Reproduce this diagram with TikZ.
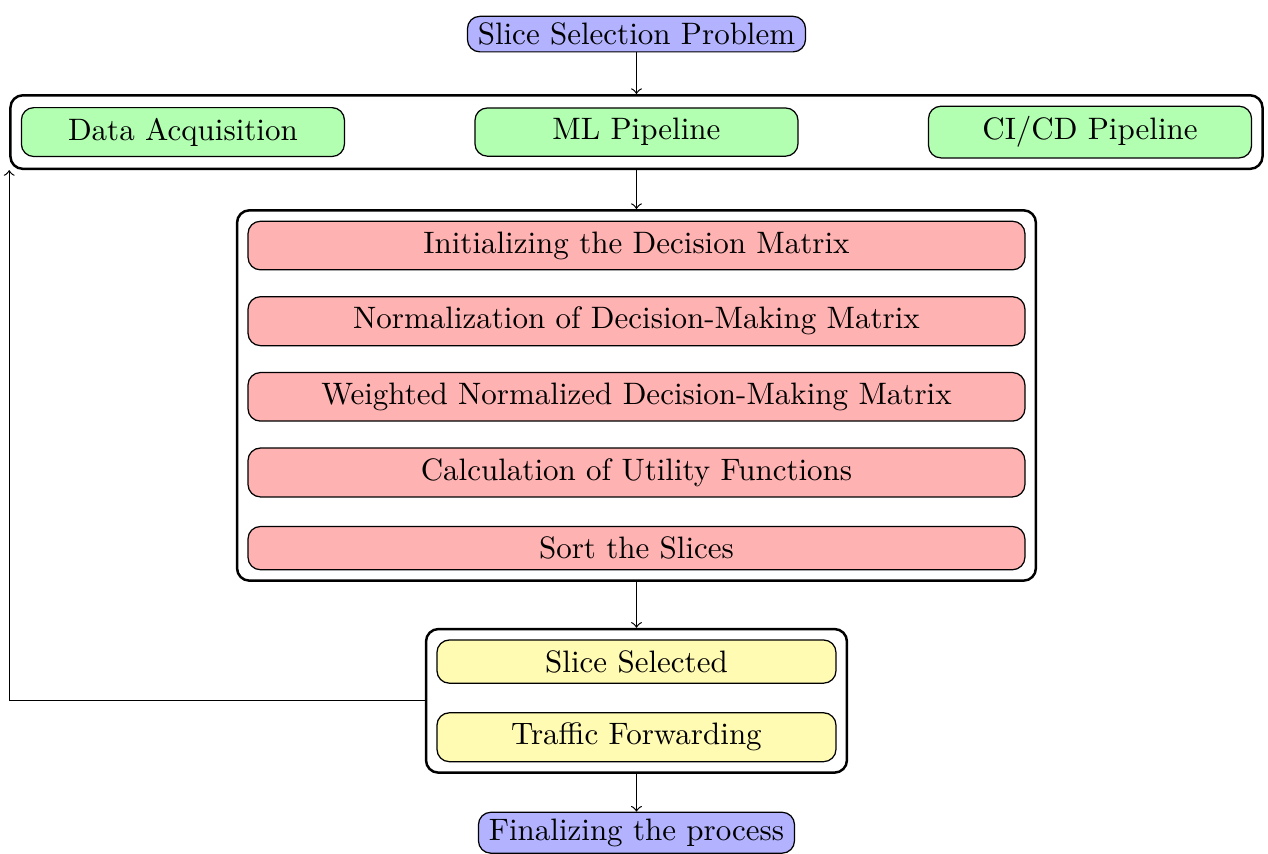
\documentclass[tikz,border=0pt]{standalone}
\usetikzlibrary{positioning,fit}

\begin{document}
\begin{tikzpicture}[
    node distance=24.4pt, on grid,
    endpoint/.style={draw, rounded corners, fill=blue!30, inner xsep=3.33pt, inner ysep=2.1pt},
    greenbox/.style={draw, rounded corners, fill=green!30, minimum width=104.2pt},
    redbox/.style={draw, rounded corners, fill=red!30, minimum width=250.6pt},
    yellowbox/.style={draw, rounded corners, fill=yellow!30, minimum width=128.7pt},
    group/.style={draw, thick, rounded corners}
]
    \useasboundingbox (-205.3pt,-232.6pt) rectangle (203.7pt,42.6pt);

    % inputs
    \node[greenbox] (ml) {ML Pipeline};
    \node[greenbox, left=146.3pt of ml] (data) {Data Acquisition};
    \node[greenbox, right=146.3pt of ml] (cicd) {CI/CD Pipeline};
    \node[endpoint, above=31.6pt of ml] (problem) {Slice Selection Problem};
    \node[group, fit=(data)(cicd)] (inputs) {};

    % ranking steps
    \node[redbox, below=36.6pt of ml] (init) {Initializing the Decision Matrix};
    \node[redbox, below=of init] (norm) {Normalization of Decision-Making Matrix};
    \node[redbox, below=of norm] (weight) {Weighted Normalized Decision-Making Matrix};
    \node[redbox, below=of weight] (util) {Calculation of Utility Functions};
    \node[redbox, below=of util] (sort) {Sort the Slices};
    \node[group, fit=(init)(sort)] (ranking) {};

    % outcome
    \node[yellowbox, below=36.6pt of sort] (selected) {Slice Selected};
    \node[yellowbox, below=of selected] (forward) {Traffic Forwarding};
    \node[group, fit=(selected)(forward)] (outcome) {};
    \node[endpoint, below=30.8pt of forward] (final) {Finalizing the process};

    \draw[->] (problem) -- (inputs);
    \draw[->] (inputs) -- (ranking);
    \draw[->] (ranking) -- (outcome);
    \draw[->] (outcome) -- (final);
    \draw[->] (outcome.west) -| (inputs.south west); % feedback
\end{tikzpicture}
\end{document}
